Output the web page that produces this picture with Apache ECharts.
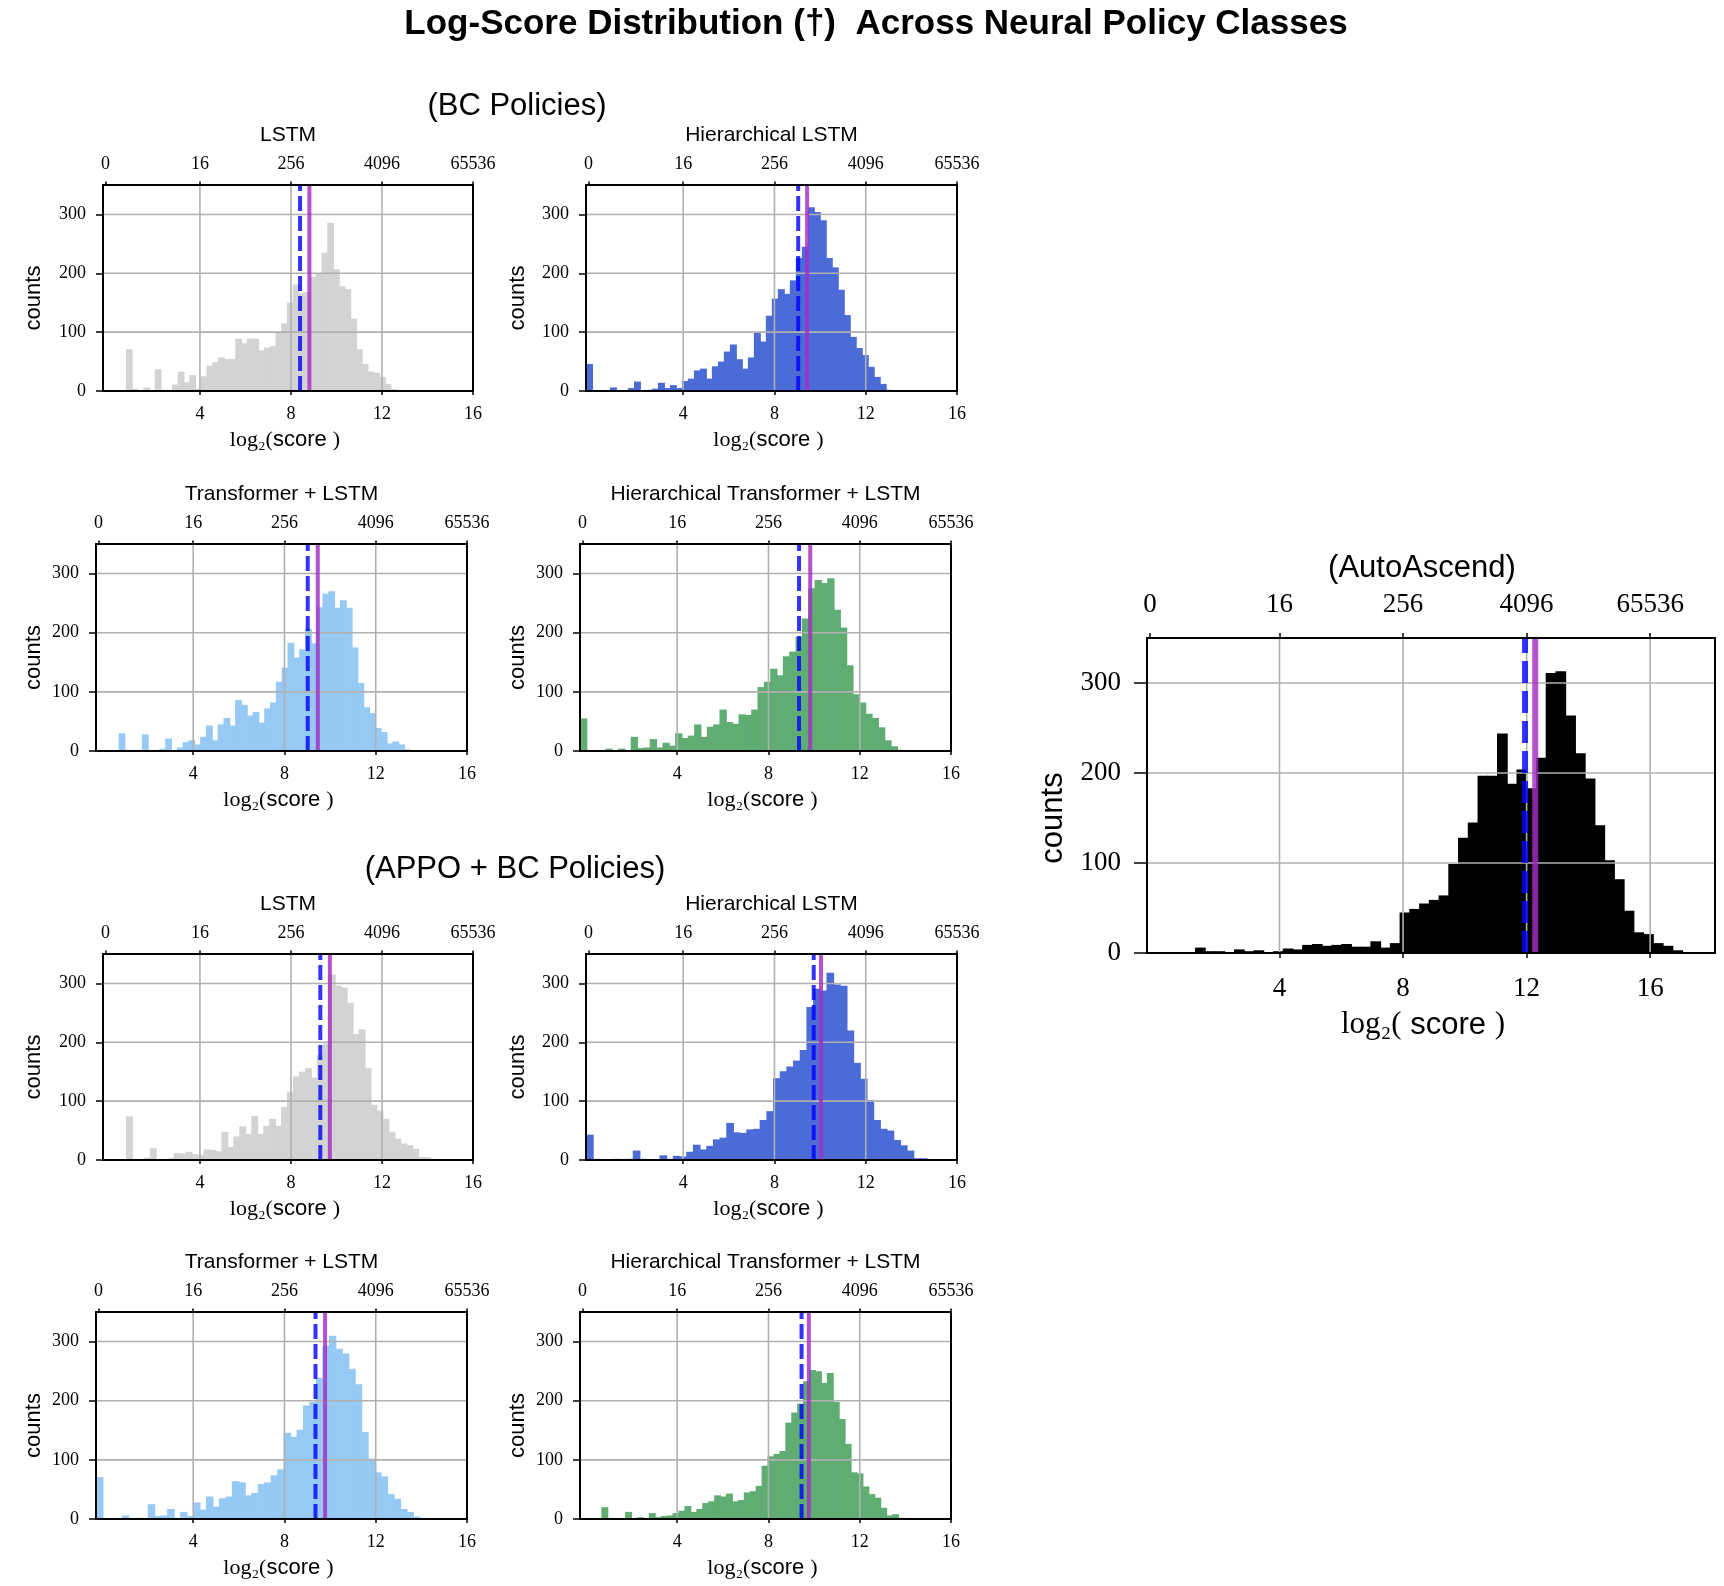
<!DOCTYPE html>
<html>
<head>
<meta charset="utf-8">
<script src="https://cdn.jsdelivr.net/npm/echarts@6/dist/echarts.min.js"></script>
<style>
  html, body { margin: 0; padding: 0; background: #fff; }
  #chart { width: 1724px; height: 1586px; }
</style>
</head>
<body>
<div id="chart"></div>
<script>
// ---- data (log2 score histograms) ----
var topTickLabels = ['0', '16', '256', '4096', '65536'];
var bottomTicks = [4, 8, 12, 16];
var countTicks = [0, 100, 200, 300];
var gridCounts = [100, 200, 300];

var panelTitles = ['LSTM', 'Hierarchical LSTM', 'Transformer + LSTM', 'Hierarchical Transformer + LSTM',
                   'LSTM', 'Hierarchical LSTM', 'Transformer + LSTM', 'Hierarchical Transformer + LSTM',
                   '(AutoAscend)'];

// first and last bin edge of each histogram
var binRanges = [[0.749, 12.88], [-0.26, 13.14], [0.73, 13.75], [-0.26, 13.91],
                 [0.749, 14.38], [-0.26, 14.67], [-0.26, 14.2], [0.676, 13.94],
                 [1.265, 17.35]];
var meanLog   = [8.40, 9.04, 9.02, 9.34, 9.29, 9.72, 9.36, 9.45, 11.95];
var medianLog = [8.81, 9.43, 9.46, 9.83, 9.71, 10.04, 9.78, 9.77, 12.28];

var countsBcLstm = [71,4,0,6,0,37,2,2,11,33,15,27,4,25,43,49,57,54,54,89,81,89,89,69,74,76,100,115,150,181,
  166,168,194,199,235,286,207,178,173,123,71,46,33,31,24,12,3,1];
var countsBcHier = [46,0,0,0,6,0,0,5,16,0,2,4,14,5,10,5,17,21,35,38,21,42,50,67,79,54,38,57,99,84,
  128,157,173,165,188,226,245,312,304,290,226,210,172,129,92,73,61,41,24,12,2];
var countsBcTrans = [30,2,0,2,28,0,2,4,21,0,6,15,18,11,24,43,18,45,56,43,86,78,60,66,48,72,82,117,141,183,
  158,172,207,182,243,266,270,242,255,242,175,115,74,64,39,32,13,16,11,3,1];
var countsBcHierTrans = [55,0,0,0,4,0,4,0,24,5,6,20,6,14,9,30,22,26,45,24,41,45,70,49,46,62,61,70,108,117,
  139,128,160,168,193,224,275,289,284,292,239,209,145,96,82,63,56,40,18,8,2];
var countsAppoLstm = [74,2,1,4,20,2,1,3,12,11,14,10,9,18,17,15,48,22,40,57,44,75,44,58,70,58,90,116,142,150,
  156,140,178,198,315,296,293,267,214,222,156,94,84,70,48,36,28,25,19,5,5,2];
var countsAppoHier = [43,2,0,0,2,0,2,16,2,0,0,8,2,7,6,14,26,18,24,35,38,63,47,46,52,53,68,83,139,151,
  159,169,187,260,291,288,318,298,296,220,165,138,102,68,53,50,34,25,16,3,3];
var countsAppoTrans = [71,0,0,0,6,0,2,0,25,5,6,17,2,12,5,28,16,38,21,35,38,64,62,40,44,59,62,74,84,146,
  139,151,192,198,239,293,310,288,280,254,228,147,102,79,72,42,34,17,12,4,1];
var countsAppoHierTrans = [20,2,0,0,12,0,3,1,10,3,5,6,10,14,22,12,17,27,30,40,38,43,30,32,45,47,56,90,106,110,
  115,163,180,195,233,252,250,230,247,198,169,127,79,77,55,42,36,19,6,8,2];
var countsAutoAscend = [6,2,2,1,4,2,3,1,2,5,4,9,10,8,9,10,7,7,13,6,11,45,49,55,59,64,99,128,145,197,
  197,244,188,204,183,217,311,313,264,222,194,142,103,82,47,23,21,11,8,3,1];

var allCounts = [countsBcLstm, countsBcHier, countsBcTrans, countsBcHierTrans,
                 countsAppoLstm, countsAppoHier, countsAppoTrans, countsAppoHierTrans, countsAutoAscend];

// ---- layout / styles ----
var barColors = ['#d3d3d3', '#4b6bd7', '#96c9f4', '#60ad74',
                 '#d3d3d3', '#4b6bd7', '#96c9f4', '#60ad74', '#000000'];
var rects = [
  {left: 103, top: 185, width: 370, height: 206},
  {left: 586, top: 185, width: 371, height: 206},
  {left: 96,  top: 544, width: 371, height: 207},
  {left: 580, top: 544, width: 371, height: 207},
  {left: 103, top: 954, width: 370, height: 206},
  {left: 586, top: 954, width: 371, height: 206},
  {left: 96,  top: 1312, width: 371, height: 207},
  {left: 580, top: 1312, width: 371, height: 207},
  {left: 1147, top: 638, width: 568, height: 315}
];
var SANS = 'Liberation Sans, Arial, Helvetica, sans-serif';
var SERIF = 'Liberation Serif, DejaVu Serif, serif';
var GRID_COLOR = '#b0b0b0';

var chart = echarts.init(document.getElementById('chart'));
var grids = [], xAxes = [], yAxes = [], series = [], graphics = [];

allCounts.forEach(function (counts, i) {
  var big = (i === 8);
  var r = rects[i];
  var xMin = big ? -0.29 : -0.26;
  var xMax = big ? 18.1 : 16;
  var yMax = 350;
  var tickFont = big ? 27 : 18;
  var topPos = [big ? -0.19 : -0.15, 4, 8, 12, 16];
  var vGrid = big ? [4, 8, 12, 16] : [4, 8, 12];
  var lw = big ? 6 : 4;

  grids.push({left: r.left, top: r.top, width: r.width, height: r.height, containLabel: false});

  var lineStyle = {color: '#000', width: 2};
  xAxes.push({
    type: 'value', gridIndex: i, position: 'bottom', min: xMin, max: xMax, z: 10,
    axisLine: {show: true, onZero: false, lineStyle: lineStyle},
    axisTick: {show: true, customValues: bottomTicks, length: big ? 5 : 4, lineStyle: {color: '#000', width: 1.5}},
    axisLabel: {show: true, customValues: bottomTicks, interval: 0, color: '#000',
                fontFamily: SERIF, fontSize: tickFont, margin: big ? 22 : 14},
    splitLine: {show: false}
  });
  xAxes.push({
    type: 'value', gridIndex: i, position: 'top', min: xMin, max: xMax, z: 10,
    axisLine: {show: true, onZero: false, lineStyle: lineStyle},
    axisTick: {show: true, customValues: topPos, length: big ? 5 : 3.5, lineStyle: {color: '#000', width: 1.5}},
    axisLabel: {show: true, customValues: topPos, interval: 0, color: '#000',
                fontFamily: SERIF, fontSize: tickFont, margin: big ? 20 : 12,
                formatter: function (v) { return topTickLabels[Math.max(0, Math.round(v / 4))]; }},
    splitLine: {show: false}
  });
  yAxes.push({
    type: 'value', gridIndex: i, position: 'left', min: 0, max: yMax, z: 10,
    axisLine: {show: true, onZero: false, lineStyle: lineStyle},
    axisTick: {show: true, customValues: countTicks, length: big ? 13 : 7, lineStyle: {color: '#000', width: 1.5}},
    axisLabel: {show: true, customValues: countTicks, interval: 0, color: '#000',
                fontFamily: SERIF, fontSize: tickFont, margin: big ? 26 : 17},
    splitLine: {show: false}
  });
  yAxes.push({
    type: 'value', gridIndex: i, position: 'right', min: 0, max: yMax, z: 10,
    axisLine: {show: true, onZero: false, lineStyle: lineStyle},
    axisTick: {show: false}, axisLabel: {show: false}, splitLine: {show: false}
  });

  var lo = binRanges[i][0], hi = binRanges[i][1];
  var w = (hi - lo) / counts.length;
  var barData = counts.map(function (c, k) { return [lo + k * w, lo + (k + 1) * w, c]; });
  var color = barColors[i];

  series.push({
    type: 'custom', xAxisIndex: 2 * i, yAxisIndex: 2 * i, z: 2, silent: true,
    encode: {x: [0, 1], y: 2},
    data: barData,
    renderItem: function (params, api) {
      var p0 = api.coord([api.value(0), api.value(2)]);
      var p1 = api.coord([api.value(1), 0]);
      // widen by a pixel so neighbouring bins join without hairline gaps
      return {type: 'rect', shape: {x: p0[0], y: p0[1], width: p1[0] - p0[0] + 1, height: p1[1] - p0[1]},
              style: {fill: color, stroke: null}};
    }
  });

  // grid lines, drawn above the bars like the reference
  var gridData = vGrid.map(function (v) { return [v, 0]; })
    .concat(gridCounts.map(function (v) { return [v, 1]; }));
  series.push({
    type: 'custom', xAxisIndex: 2 * i, yAxisIndex: 2 * i, z: 3, silent: true,
    data: gridData,
    renderItem: function (params, api) {
      var v = api.value(0), horiz = api.value(1) === 1;
      var a = horiz ? api.coord([xMin, v]) : api.coord([v, 0]);
      var b = horiz ? api.coord([xMax, v]) : api.coord([v, yMax]);
      return {type: 'line', shape: {x1: a[0], y1: a[1], x2: b[0], y2: b[1]},
              style: {stroke: GRID_COLOR, lineWidth: 1.6}};
    }
  });

  // mean (blue dashed) and median (purple) lines
  series.push({
    type: 'custom', xAxisIndex: 2 * i, yAxisIndex: 2 * i, z: 4, silent: true,
    data: [[meanLog[i], 0], [medianLog[i], 1]],
    renderItem: function (params, api) {
      var v = api.value(0), isMedian = api.value(1) === 1;
      var a = api.coord([v, 0]), b = api.coord([v, yMax]);
      return {type: 'line', shape: {x1: a[0], y1: a[1], x2: b[0], y2: b[1]},
              style: isMedian
                ? {stroke: 'rgba(165,45,195,0.82)', lineWidth: lw}
                : {stroke: 'rgba(0,0,255,0.8)', lineWidth: lw, lineDash: big ? [22, 8] : [15, 5]}};
    }
  });

  // texts around each panel
  var cx = r.left + r.width / 2;
  var cy = r.top + r.height / 2;
  var fs = big ? 31 : 22;
  graphics.push({
    type: 'text', x: big ? 1422 : cx, y: big ? r.top - 70 : r.top - 50,
    style: {text: panelTitles[i], fontFamily: SANS, fontSize: big ? 31 : 21, fill: '#000',
            align: 'center', verticalAlign: 'middle'}
  });
  graphics.push({
    type: 'text', x: big ? 1053 : (r.left < 300 ? 34 : 518), y: big ? 818 : cy + 10, rotation: Math.PI / 2,
    style: {text: 'counts', fontFamily: SANS, fontSize: fs, fill: '#000', align: 'center', verticalAlign: 'middle'}
  });
  graphics.push({
    type: 'text', x: big ? 1423 : cx - 3, y: big ? r.top + r.height + 72 : r.top + r.height + 49,
    style: {
      text: big ? '{s|log₂(}{f| score }{s|)}' : '{s|log₂(}{f|score }{s|)}',
      align: 'center', verticalAlign: 'middle', fill: '#000',
      rich: {
        s: {fontFamily: SERIF, fontSize: fs, fill: '#000'},
        f: {fontFamily: SANS, fontSize: fs, fill: '#000'}
      }
    }
  });
});

graphics.push({
  type: 'text', x: 876, y: 24,
  style: {text: 'Log-Score Distribution (†)  Across Neural Policy Classes', fontFamily: SANS,
          fontSize: 35, fontWeight: 'bold', fill: '#000', align: 'center', verticalAlign: 'middle'}
});
graphics.push({
  type: 'text', x: 517, y: 106,
  style: {text: '(BC Policies)', fontFamily: SANS, fontSize: 31, fill: '#000', align: 'center', verticalAlign: 'middle'}
});
graphics.push({
  type: 'text', x: 515, y: 869,
  style: {text: '(APPO + BC Policies)', fontFamily: SANS, fontSize: 31, fill: '#000', align: 'center', verticalAlign: 'middle'}
});

chart.setOption({
  animation: false,
  backgroundColor: '#ffffff',
  grid: grids,
  xAxis: xAxes,
  yAxis: yAxes,
  series: series,
  graphic: graphics
});
</script>
</body>
</html>
